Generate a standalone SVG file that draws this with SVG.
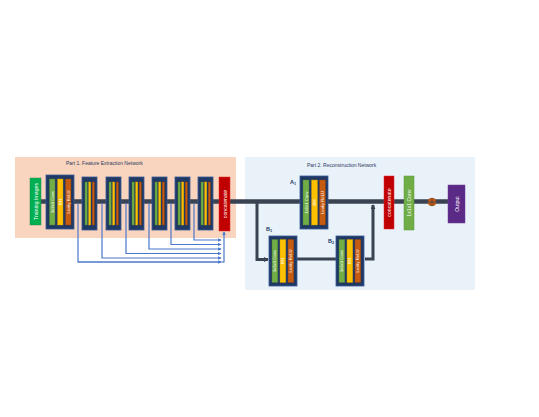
<svg xmlns="http://www.w3.org/2000/svg" width="539" height="417" viewBox="0 0 539 417">
<defs>
<style>
.t{font-family:"Liberation Sans",Arial,sans-serif;}
.ttl{font-size:5px;fill:#2b3a5c;}
.vt{font-size:4.2px;fill:#ffffff;text-anchor:middle;dominant-baseline:central;}
.vt5{font-size:5.2px;fill:#ffffff;text-anchor:middle;dominant-baseline:central;}
.blk{fill:#203864;stroke:#3a5a94;stroke-width:0.8;}
.g{fill:#70ad47;stroke:#4f7f30;stroke-width:0.4;}
.y{fill:#ffc000;stroke:#c99700;stroke-width:0.4;}
.o{fill:#c55a11;stroke:#8f3f0a;stroke-width:0.4;}
.main{stroke:#3a4352;stroke-width:4.5;fill:none;}
.br{stroke:#3a4352;stroke-width:3;fill:none;}
.skip{stroke:#4a78cc;stroke-width:1.2;fill:none;}
.lbl{font-size:5.5px;fill:#203864;font-weight:bold;}
</style>
<marker id="ab" viewBox="0 0 6 6" refX="5" refY="3" markerWidth="3.5" markerHeight="3.5" orient="auto" markerUnits="userSpaceOnUse">
<path d="M0,0 L6,3 L0,6 z" fill="#4a78cc"/>
</marker>
<marker id="ad" viewBox="0 0 6 6" refX="5" refY="3" markerWidth="5" markerHeight="5" orient="auto" markerUnits="userSpaceOnUse">
<path d="M0,0 L6,3 L0,6 z" fill="#3a4352"/>
</marker>
</defs>
<rect width="539" height="417" fill="#ffffff"/>
<!-- panels -->
<g id="panel1">
<rect x="15" y="157" width="221" height="81" fill="#f9d5bf"/>
<text class="t ttl" x="66" y="165">Part 1. Feature Extraction Network</text>
</g>
<g id="panel2">
<rect x="245" y="157" width="230" height="133" fill="#e9f1f9"/>
<text class="t ttl" x="307" y="167">Part 2. Reconstruction Network</text>
</g>
<!-- connectors -->
<g id="connectors">
<path class="main" d="M41,201.5 H448"/>
<path class="skip" d="M78,203 V262 H224"/>
<path class="skip" d="M102,203 V258 H221" marker-end="url(#ab)"/>
<path class="skip" d="M126,203 V253.5 H221" marker-end="url(#ab)"/>
<path class="skip" d="M149,203 V249 H221" marker-end="url(#ab)"/>
<path class="skip" d="M171,203 V244.5 H221" marker-end="url(#ab)"/>
<path class="skip" d="M194,203 V240 H221" marker-end="url(#ab)"/>
<path class="skip" d="M224,262.6 V232" marker-end="url(#ab)"/>
<path class="skip" d="M78,262 H221" marker-end="url(#ab)"/>
<path class="br" d="M257,202 V259.5 H268" marker-end="url(#ad)"/>
<path class="br" d="M297,259 H336"/>
<path class="br" d="M365,259 H373 V205" marker-end="url(#ad)"/>
</g>
<g id="training">
<rect x="30" y="178" width="11" height="47" fill="#00b050" stroke="#2e8b57" stroke-width="0.5"/>
<text class="t vt5" transform="translate(35.5,201.5) rotate(-90)">Training Images</text>
</g>
<g id="block1">
<rect class="blk" x="46" y="175" width="28" height="54"/>
<rect class="g" x="49.5" y="179" width="5.5" height="46"/>
<rect class="y" x="57.5" y="179" width="5.5" height="46"/>
<rect class="o" x="65.5" y="179" width="5.5" height="46"/>
<text class="t vt" transform="translate(52.25,202) rotate(-90)">3x3x3 Conv</text>
<text class="t vt" transform="translate(60.25,202) rotate(-90)">BN</text>
<text class="t vt" transform="translate(68.25,202) rotate(-90)">Leaky ReLU</text>
</g>
<g id="block2">
<rect class="blk" x="82" y="177" width="15" height="53"/>
<rect class="g" x="85" y="182" width="2.2" height="43"/><rect class="y" x="88.6" y="182" width="2.2" height="43"/><rect class="o" x="92.2" y="182" width="2.2" height="43"/>
</g>
<g id="block3">
<rect class="blk" x="106" y="177" width="15" height="53"/>
<rect class="g" x="109" y="182" width="2.2" height="43"/><rect class="y" x="112.6" y="182" width="2.2" height="43"/><rect class="o" x="116.2" y="182" width="2.2" height="43"/>
</g>
<g id="block4">
<rect class="blk" x="129" y="177" width="15" height="53"/>
<rect class="g" x="132" y="182" width="2.2" height="43"/><rect class="y" x="135.6" y="182" width="2.2" height="43"/><rect class="o" x="139.2" y="182" width="2.2" height="43"/>
</g>
<g id="block5">
<rect class="blk" x="152" y="177" width="15" height="53"/>
<rect class="g" x="155" y="182" width="2.2" height="43"/><rect class="y" x="158.6" y="182" width="2.2" height="43"/><rect class="o" x="162.2" y="182" width="2.2" height="43"/>
</g>
<g id="block6">
<rect class="blk" x="175" y="177" width="15" height="53"/>
<rect class="g" x="178" y="182" width="2.2" height="43"/><rect class="y" x="181.6" y="182" width="2.2" height="43"/><rect class="o" x="185.2" y="182" width="2.2" height="43"/>
</g>
<g id="block7">
<rect class="blk" x="198" y="177" width="15" height="53"/>
<rect class="g" x="201" y="182" width="2.2" height="43"/><rect class="y" x="204.6" y="182" width="2.2" height="43"/><rect class="o" x="208.2" y="182" width="2.2" height="43"/>
</g>
<g id="concat1">
<rect x="219" y="177" width="11" height="54" fill="#c00000" stroke="#e03030" stroke-width="0.5"/>
<text class="t vt5" transform="translate(224.5,204) rotate(-90)">concatenate</text>
</g>
<g id="A1">
<text class="t lbl" x="290" y="184">A<tspan font-size="3.8px" dy="1.2">1</tspan></text>
<rect class="blk" x="300" y="176" width="28" height="53"/>
<rect class="g" x="303" y="180" width="6" height="45"/>
<rect class="y" x="311.5" y="180" width="6" height="45"/>
<rect class="o" x="319.5" y="180" width="6" height="45"/>
<text class="t vt" transform="translate(306,202.5) rotate(-90)">1x1x1 Conv</text>
<text class="t vt" transform="translate(314.5,202.5) rotate(-90)">BN</text>
<text class="t vt" transform="translate(322.5,202.5) rotate(-90)">Leaky ReLU</text>
</g>
<g id="B1">
<text class="t lbl" x="266" y="231">B<tspan font-size="3.8px" dy="1.2">1</tspan></text>
<rect class="blk" x="269" y="236" width="28" height="50"/>
<rect class="g" x="272" y="239.5" width="5.8" height="43"/>
<rect class="y" x="280" y="239.5" width="5.8" height="43"/>
<rect class="o" x="288" y="239.5" width="5.8" height="43"/>
<text class="t vt" transform="translate(274.9,261) rotate(-90)">3x3x3 Conv</text>
<text class="t vt" transform="translate(282.9,261) rotate(-90)">BN</text>
<text class="t vt" transform="translate(290.9,261) rotate(-90)">Leaky ReLU</text>
</g>
<g id="B2">
<text class="t lbl" x="328" y="243">B<tspan font-size="3.8px" dy="1.2">2</tspan></text>
<rect class="blk" x="336" y="236" width="28" height="50"/>
<rect class="g" x="339" y="239.5" width="5.8" height="43"/>
<rect class="y" x="347" y="239.5" width="5.8" height="43"/>
<rect class="o" x="355" y="239.5" width="5.8" height="43"/>
<text class="t vt" transform="translate(341.9,261) rotate(-90)">3x3x3 Conv</text>
<text class="t vt" transform="translate(349.9,261) rotate(-90)">BN</text>
<text class="t vt" transform="translate(357.9,261) rotate(-90)">Leaky ReLU</text>
</g>
<g id="concat2">
<rect x="384" y="176" width="10" height="53" fill="#c00000" stroke="#e03030" stroke-width="0.5"/>
<text class="t vt5" transform="translate(389,202.5) rotate(-90)">concatenate</text>
</g>
<g id="conv_out">
<rect x="404" y="176" width="10" height="54" fill="#70ad47" stroke="#5a9a3a" stroke-width="0.5"/>
<text class="t vt5" transform="translate(409,203) rotate(-90)">1x1x1 Conv</text>
</g>
<g id="plus">
<circle cx="432" cy="202" r="4" fill="#c55a11" stroke="#a04a10" stroke-width="0.4"/>
<path d="M428,202 H436 M432,198 V206" stroke="#3a4352" stroke-width="0.8"/>
</g>
<g id="output">
<rect x="448" y="185" width="17" height="38" fill="#5b2a86" stroke="#6f3fa0" stroke-width="0.5"/>
<text class="t vt5" transform="translate(456.5,204) rotate(-90)">Output</text>
</g>
</svg>
